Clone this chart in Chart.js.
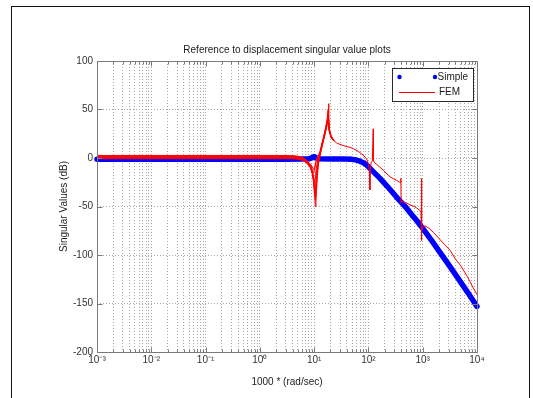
<!DOCTYPE html>
<html>
<head>
<meta charset="utf-8">
<script src="https://cdn.jsdelivr.net/npm/chart.js@4.4.1/dist/chart.umd.min.js"></script>
<style>
  html, body { margin: 0; padding: 0; background: #ffffff; }
  canvas { display: block; }
</style>
</head>
<body>
<canvas id="sv" width="533" height="398"></canvas>
<script>
// Frequencies are in units of 1000 * (rad/sec); magnitudes in dB.

// Simple model: largest singular value
const simpleFreq = [0.001, 0.01, 0.1, 1, 3, 6, 8, 9.3, 10, 10.8, 12, 20, 35, 50, 60, 70, 80, 90, 100, 125, 160, 200, 250, 320, 400, 500, 630, 800, 1000, 1500, 2000, 3000, 5000, 7000, 10000];
const simpleDb   = [-1.3, -1.3, -1.3, -1.3, -1.3, -1.1, -0.9, 0.4, 1.6, 0.2, -0.9, -1.1, -1.1, -1.4, -2.1, -3.3, -4.8, -6.6, -9, -14.5, -20.5, -26.5, -32.5, -39.5, -45.5, -51.5, -58.5, -65.5, -72.5, -86, -96, -110, -128, -140, -153];

// FEM model: dominant singular value over the full band
const femFreq = [0.001, 0.5, 2, 3.5, 4.5, 5.5, 6.5, 7.5, 8.5, 9.2, 9.8, 10.2, 10.5, 10.8, 11.2, 11.7, 12.2, 12.7, 13.5, 14.6, 15.8, 16.9, 17.6, 18.0, 18.4, 18.7, 19.3, 20.5, 22.5, 26, 30, 38, 46, 53, 62, 70, 80, 88, 94, 100, 104, 106.5, 108, 112, 118, 121, 122.5, 124, 130, 141, 160, 187, 220, 250, 290, 330, 376, 392, 396, 400, 406, 430, 500, 600, 700, 772, 880, 930, 948, 953, 958, 966, 990, 1050, 1150, 1300, 1566, 2000, 2500, 3177, 4000, 5000, 6455, 8000, 10000];
const femDb   = [1.0, 1.0, 1.0, 0.9, 0.6, 0.0, -1.5, -4, -8, -13, -22, -35, -50, -38, -20, -9, -2, 3, 10, 18, 27, 36, 43, 50, 56, 38, 27, 22.5, 18.6, 15.5, 14, 12, 11, 9.5, 7.5, 5.5, 3, 0.5, -2, -6, -14, -33, -12, -5, -3, -3, 30, -3, -5, -6.5, -9, -12.5, -16.5, -19.3, -21.5, -23, -25, -25.5, -21, -46, -44.5, -45, -46.5, -48.5, -50, -51.5, -54, -55, -48, -21, -85, -76, -71.5, -70, -70.5, -72.5, -76.5, -83, -89, -95, -104, -111, -121, -131, -141];

// FEM model: remaining singular values around the first resonance
const notchFreq = [0.001, 0.5, 2, 3.5, 4.5, 5.5, 6.5, 7.5, 8.5, 9.2, 9.8, 10.2, 10.6, 11.0, 11.5, 12.0, 12.7, 13.5, 14.6, 15.8, 16.9, 17.6, 18.2, 19.0, 20.5, 23];
const femNotchB = [2.6, 2.6, 2.6, 2.5, 2.2, 1.4, -0.3, -3, -7, -12, -20, -26, -18, -10, -4, 0, 4, 10, 18, 26, 33, 38, 44, 28, 22, 18];
const femNotchC = [0.0, 0.0, 0.0, -0.1, -0.3, -1.0, -2.5, -5.5, -10, -16, -24, -34, -40, -22, -10, -3, 2, 9, 17, 25, 33, 37, 40, 27, 21, 17.5];
const femNotchD = [-0.8, -0.8, -0.8, -0.8, -1.0, -1.7, -3, -6, -9, -13, -15, -12, -6, -2, 1, 3, 6, 12, 20, 28, 35, 40, 47, 30, 23, 18.5];
const femNotchE = [1.8, 1.8, 1.8, 1.7, 1.3, 0.4, -1.5, -4, -8, -14, -22, -30, -44, -36, -18, -6, 1, 8, 16, 24, 31, 36, 41, 29, 22, 18];
const femNotchF = [2.2, 2.2, 2.2, 2.1, 1.8, 1.0, -0.8, -3.5, -6, -9, -12, -10, -6, -3, -1, 1.5, 5, 11, 19, 27, 34, 39, 45, 29, 22.5, 18.2];
const femNotchG = [0.5, 0.5, 0.5, 0.4, 0.1, -0.6, -2, -5, -9, -15, -26, -40, -30, -16, -7, -1, 3, 9.5, 17.5, 25.5, 32, 37, 42, 28, 21.5, 17.8];

// Axis ticks
const yTickValues = [-200, -150, -100, -50, 0, 50, 100];
const xDecades = [-3, -2, -1, 0, 1, 2, 3, 4];
const xTickLabels = ['10\u207B\u00B3', '10\u207B\u00B2', '10\u207B\u00B9', '10\u2070', '10\u00B9', '10\u00B2', '10\u00B3', '10\u2074'];

const titleText = 'Reference to displacement singular value plots';
const xTitle = '1000 * (rad/sec)';
const yTitle = 'Singular Values (dB)';
const seriesNames = ['Simple', 'FEM'];

const FONT = '"Liberation Sans", Arial, Helvetica, sans-serif';
const BLUE = '#0000ff';
const RED = '#ff0000';
const AXIS = '#7a7a7a';

function toPoints(xs, ys) {
  return xs.map((x, i) => ({ x: x, y: ys[i] }));
}

function femLine(label, xs, ys) {
  return {
    label: label,
    data: toPoints(xs, ys),
    borderColor: RED,
    backgroundColor: RED,
    borderWidth: 1,
    pointRadius: 0,
    tension: 0,
    order: 1
  };
}

// Figure frame, axes box with inward ticks, title and legend
const matlabLook = {
  id: 'matlabLook',
  beforeDraw(chart) {
    const ctx = chart.ctx;
    ctx.save();
    ctx.fillStyle = '#ffffff';
    ctx.fillRect(0, 0, chart.width, chart.height);
    ctx.strokeStyle = '#111111';
    ctx.lineWidth = 1;
    ctx.strokeRect(11.5, 6.5, 518, 420);
    ctx.restore();
  },
  afterDraw(chart) {
    const ctx = chart.ctx;
    const a = chart.chartArea;
    const xs = chart.scales.x;
    const ys = chart.scales.y;
    const L = Math.round(a.left) + 0.5, R = Math.round(a.right) + 0.5;
    const T = Math.round(a.top) + 0.5, B = Math.round(a.bottom) + 0.5;
    ctx.save();
    ctx.strokeStyle = AXIS;
    ctx.lineWidth = 1;
    ctx.beginPath();
    ctx.rect(L, T, R - L, B - T);
    // inward tick marks on bottom and top
    xs.ticks.forEach(t => {
      const px = Math.round(xs.getPixelForValue(t.value)) + 0.5;
      const e = Math.log10(t.value);
      const len = Math.abs(e - Math.round(e)) < 1e-6 ? 5 : 3;
      ctx.moveTo(px, B); ctx.lineTo(px, B - len);
      ctx.moveTo(px, T); ctx.lineTo(px, T + len);
    });
    // inward tick marks on left and right
    ys.ticks.forEach(t => {
      const py = Math.round(ys.getPixelForValue(t.value)) + 0.5;
      ctx.moveTo(L, py); ctx.lineTo(L + 5, py);
      ctx.moveTo(R, py); ctx.lineTo(R - 5, py);
    });
    ctx.stroke();

    // title over the axes
    ctx.fillStyle = '#1a1a1a';
    ctx.font = '10px ' + FONT;
    ctx.textAlign = 'center';
    ctx.textBaseline = 'middle';
    ctx.fillText(titleText, (a.left + a.right) / 2, 50);

    // legend box in the upper-right corner of the axes
    const bx = 392.5, by = 68.5, bw = 81, bh = 33;
    ctx.fillStyle = '#ffffff';
    ctx.fillRect(bx, by, bw, bh);
    ctx.strokeStyle = '#2a2a2a';
    ctx.strokeRect(bx, by, bw, bh);
    const simpleSet = chart.data.datasets[0];
    const femSet = chart.data.datasets[1];
    ctx.fillStyle = simpleSet.borderColor;
    [399.5, 435].forEach(cx => {
      ctx.beginPath();
      ctx.arc(cx, 77, 2.2, 0, Math.PI * 2);
      ctx.fill();
    });
    ctx.strokeStyle = femSet.borderColor;
    ctx.beginPath();
    ctx.moveTo(399, 92.5); ctx.lineTo(435, 92.5);
    ctx.stroke();
    ctx.fillStyle = '#1a1a1a';
    ctx.textAlign = 'left';
    ctx.fillText(simpleSet.label, 437.5, 77.5);
    ctx.fillText(femSet.label, 439, 92.5);
    ctx.restore();
  }
};

Chart.defaults.font.family = FONT;
Chart.defaults.font.size = 10;
Chart.defaults.color = '#333333';

new Chart(document.getElementById('sv'), {
  type: 'line',
  data: {
    datasets: [
      {
        label: seriesNames[0],
        data: toPoints(simpleFreq, simpleDb),
        borderColor: BLUE,
        backgroundColor: BLUE,
        borderWidth: 5.5,
        borderCapStyle: 'round',
        borderJoinStyle: 'round',
        pointRadius: 0,
        tension: 0,
        clip: 3,
        order: 2
      },
      femLine(seriesNames[1], femFreq, femDb),
      femLine(seriesNames[1] + ' 2', notchFreq, femNotchB),
      femLine(seriesNames[1] + ' 3', notchFreq, femNotchC),
      femLine(seriesNames[1] + ' 4', notchFreq, femNotchD),
      femLine(seriesNames[1] + ' 5', notchFreq, femNotchE),
      femLine(seriesNames[1] + ' 6', notchFreq, femNotchF),
      femLine(seriesNames[1] + ' 7', notchFreq, femNotchG)
    ]
  },
  options: {
    responsive: false,
    animation: false,
    events: [],
    layout: { padding: { left: 0, right: 56, top: 61, bottom: 0 } },
    plugins: {
      legend: { display: false },
      tooltip: { enabled: false },
      title: { display: false }
    },
    scales: {
      x: {
        type: 'logarithmic',
        min: 0.001,
        max: 10000,
        afterBuildTicks(scale) {
          const ticks = [];
          for (let i = 0; i < xDecades.length - 1; i++) {
            for (let m = 1; m <= 9; m++) {
              ticks.push({ value: m * Math.pow(10, xDecades[i]) });
            }
          }
          ticks.push({ value: Math.pow(10, xDecades[xDecades.length - 1]) });
          scale.ticks = ticks;
        },
        afterFit(scale) { scale.height = 46; },
        ticks: {
          autoSkip: false,
          maxRotation: 0,
          minRotation: 0,
          padding: 2,
          color: '#333333',
          font: { size: 10 },
          callback(value) {
            const e = Math.round(Math.log10(value));
            if (Math.abs(value - Math.pow(10, e)) > 1e-9 * Math.pow(10, e)) return '';
            const k = xDecades.indexOf(e);
            return k >= 0 ? xTickLabels[k] : '';
          }
        },
        grid: { color: '#a8a8a8', lineWidth: 1, drawTicks: false },
        border: { display: false, dash: [1, 2] },
        title: {
          display: true,
          text: xTitle,
          color: '#1a1a1a',
          font: { size: 10 },
          padding: { top: 0, bottom: 10 }
        }
      },
      y: {
        type: 'linear',
        min: -200,
        max: 100,
        afterBuildTicks(scale) {
          scale.ticks = yTickValues.map(v => ({ value: v }));
        },
        afterFit(scale) { scale.width = 97; },
        ticks: {
          padding: 4,
          color: '#333333',
          font: { size: 10 }
        },
        grid: { color: '#a8a8a8', lineWidth: 1, drawTicks: false },
        border: { display: false, dash: [1, 2] },
        title: {
          display: true,
          text: yTitle,
          color: '#1a1a1a',
          font: { size: 10 },
          padding: { top: 58, bottom: 0 }
        }
      }
    }
  },
  plugins: [matlabLook]
});
</script>
</body>
</html>
